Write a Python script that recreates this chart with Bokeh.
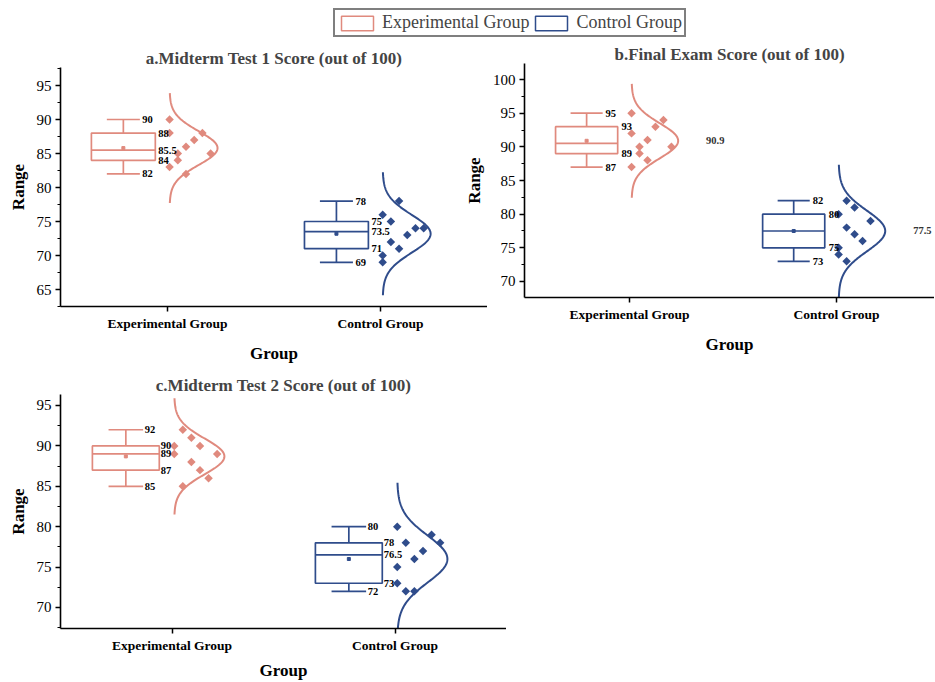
import numpy as np
from bokeh.plotting import figure
from bokeh.layouts import column, row
from bokeh.models import FixedTicker, SingleIntervalTicker, Range1d, Legend, LegendItem
from bokeh.embed import file_html
from bokeh.resources import INLINE
from bokeh.core.properties import value

# ---------------- data ----------------
categories = ["Experimental Group", "Control Group"]
titles = ["a.Midterm Test 1 Score (out of 100)",
          "b.Final Exam Score (out of 100)",
          "c.Midterm Test 2 Score (out of 100)"]

mt1_exp = [90, 88, 88, 87, 86, 85, 85, 84, 83, 82]
mt1_ctrl = [78, 76, 75, 74, 74, 73, 72, 71, 70, 69]
final_exp = [95, 94, 93, 92, 91, 90, 90, 89, 88, 87]
final_ctrl = [82, 81, 80, 79, 78, 77, 76, 75, 74, 73]
mt2_exp = [92, 91, 90, 90, 89, 89, 88, 87, 86, 85]
mt2_ctrl = [80, 79, 78, 78, 77, 76, 75, 73, 72, 72]

# jitter slot (column) of each point, as in the picture
mt1_exp_slot = [0, 0, 4, 3, 2, 1, 5, 1, 0, 2]
mt1_ctrl_slot = [2, 0, 1, 4, 5, 3, 1, 2, 0, 0]
final_exp_slot = [0, 4, 3, 0, 2, 1, 5, 1, 2, 0]
final_ctrl_slot = [1, 2, 0, 4, 1, 2, 3, 0, 0, 1]
mt2_exp_slot = [1, 2, 0, 3, 0, 5, 2, 3, 4, 1]
mt2_ctrl_slot = [0, 4, 5, 1, 3, 2, 0, 0, 1, 2]

EXP_COLOR = "#E08A7E"
CTRL_COLOR = "#2F4C8B"
FONT = "Liberation Serif"


def hinges(vals):
    s = sorted(vals)
    n = len(s)
    h = n // 2
    return float(np.median(s[:h])), float(np.median(s)), float(np.median(s[n - h:]))


def fmt(v):
    return f"{v:g}"


def make_panel(title, exp, ctrl, exp_slot, ctrl_slot, xr, yr, width, height,
               borders, mean_far=False, xlab_standoff=10):
    left, right, top, bottom = borders
    p = figure(width=width, height=height, x_range=Range1d(*xr), y_range=Range1d(*yr),
               output_backend="svg", toolbar_location=None,
               min_border_left=left, min_border_right=right,
               min_border_top=top, min_border_bottom=bottom)
    p.outline_line_color = None
    p.grid.visible = False
    p.background_fill_alpha = 0
    p.border_fill_alpha = 0

    p.title.text = title
    p.title.align = "center"
    p.title.text_font = FONT
    p.title.text_font_size = "17px"
    p.title.text_font_style = "bold"
    p.title.standoff = 0

    # axes
    p.xaxis.ticker = FixedTicker(ticks=[1, 2])
    p.xaxis.major_label_overrides = {1: categories[0], 2: categories[1]}
    p.yaxis.ticker = SingleIntervalTicker(interval=5, num_minor_ticks=2)
    for ax in (p.xaxis, p.yaxis):
        ax.axis_line_width = 1.6
        ax.axis_line_color = "black"
        ax.major_tick_line_width = 1.5
        ax.major_tick_line_color = "black"
        ax.major_tick_in = 0
        ax.major_tick_out = 5
        ax.minor_tick_in = 0
        ax.minor_tick_out = 3
        ax.minor_tick_line_width = 1.2
        ax.minor_tick_line_color = "black"
        ax.axis_label_text_font = FONT
        ax.axis_label_text_font_size = "17px"
        ax.axis_label_text_font_style = "bold"
        ax.axis_label_text_color = "black"
        ax.major_label_text_font = FONT
        ax.major_label_text_color = "black"
        ax.major_label_standoff = 4
    p.xaxis.minor_tick_line_color = None
    p.xaxis.major_label_text_font_size = "13.5px"
    p.xaxis.major_label_text_font_style = "bold"
    p.yaxis.major_label_text_font_size = "15px"
    p.xaxis.axis_label = "Group"
    p.yaxis.axis_label = "Range"
    p.xaxis.axis_label_standoff = xlab_standoff
    p.yaxis.axis_label_standoff = 6

    for cat, vals, slots, color in [(1, exp, exp_slot, EXP_COLOR),
                                    (2, ctrl, ctrl_slot, CTRL_COLOR)]:
        q1, med, q3 = hinges(vals)
        lo, hi = min(vals), max(vals)
        mean = float(np.mean(vals))
        sd = float(np.std(vals, ddof=1))
        bc = cat - 0.207
        hw = 0.15
        cw = 0.0775
        lw = 1.7
        # box
        p.quad(left=[bc - hw], right=[bc + hw], bottom=[q1], top=[q3],
               fill_color=None, line_color=color, line_width=lw)
        p.segment(x0=[bc - hw, bc, bc, bc - cw, bc - cw],
                  y0=[med, q3, q1, hi, lo],
                  x1=[bc + hw, bc, bc, bc + cw, bc + cw],
                  y1=[med, hi, lo, hi, lo],
                  line_color=color, line_width=lw)
        p.scatter([bc], [mean], marker="square", size=3, color=color)
        # points
        xs = [cat + 0.01 + 0.0385 * s for s in slots]
        p.scatter(xs, vals, marker="square", angle=np.pi / 4, size=6,
                  color=color, line_width=0)
        # half normal curve
        ys = np.linspace(mean - 3.25 * sd, mean + 3.25 * sd, 160)
        pdf = np.exp(-0.5 * ((ys - mean) / sd) ** 2)
        p.line(cat + 0.01 + 0.225 * pdf, ys, line_color=color, line_width=2)
        # value labels
        if mean_far:
            lv = [hi, q3, q1, lo]
            offs = [19, 35, 35, 19]
        else:
            lv = [hi, q3, med, q1, lo]
            offs = [19, 35, 35, 35, 19]
        p.text(x=[bc] * len(lv), y=lv, text=[fmt(v) for v in lv], x_offset=offs,
               text_font=value(FONT), text_font_size="10.5px", text_font_style="bold",
               text_baseline="middle", text_align="left", text_color="black")
        if mean_far:
            p.text(x=[cat + 0.37], y=[mean], text=[fmt(round(mean, 1))],
                   text_font=value(FONT), text_font_size="10.5px", text_font_style="bold",
                   text_baseline="middle", text_align="left", text_color="#333333")
    return p


pa = make_panel(titles[0], mt1_exp, mt1_ctrl, mt1_exp_slot, mt1_ctrl_slot,
                (0.498, 2.502), (62.5, 97.65), 487, 332, (60, 0, 27, 66))
pb = make_panel(titles[1], final_exp, final_ctrl, final_exp_slot, final_ctrl_slot,
                (0.493, 2.473), (67.62, 102.38), 474, 332, (64, 0, 23, 75), mean_far=True)
col_b = column(pb)
col_b.margin = (0, 0, 0, -27)
pc = make_panel(titles[2], mt2_exp, mt2_ctrl, mt2_exp_slot, mt2_ctrl_slot,
                (0.5, 2.5), (67.4, 96.36), 506, 310, (60, 0, 22, 54), xlab_standoff=5)

# legend strip
lg = figure(width=934, height=40, x_range=Range1d(0, 1), y_range=Range1d(0, 1),
            output_backend="svg", toolbar_location=None, min_border=0)
lg.axis.visible = False
lg.grid.visible = False
lg.outline_line_color = None
lg.background_fill_alpha = 0
lg.border_fill_alpha = 0
r1 = lg.quad(left=[5], right=[6], bottom=[5], top=[6], fill_color=None,
             line_color=EXP_COLOR, line_width=1.5)
r2 = lg.quad(left=[5], right=[6], bottom=[5], top=[6], fill_color=None,
             line_color=CTRL_COLOR, line_width=1.5)
legend = Legend(items=[LegendItem(label=categories[0], renderers=[r1]),
                       LegendItem(label=categories[1], renderers=[r2])],
                orientation="horizontal", location=(333, 3),
                padding=2, spacing=2, margin=0, glyph_width=40, glyph_height=18,
                label_standoff=5, label_height=18,
                label_text_font=FONT, label_text_font_size="18px",
                border_line_color="black", border_line_width=2)
lg.add_layout(legend)

layout = column(column(lg), row(pa, col_b), pc)
open("out.html", "w").write(file_html(layout, INLINE))
